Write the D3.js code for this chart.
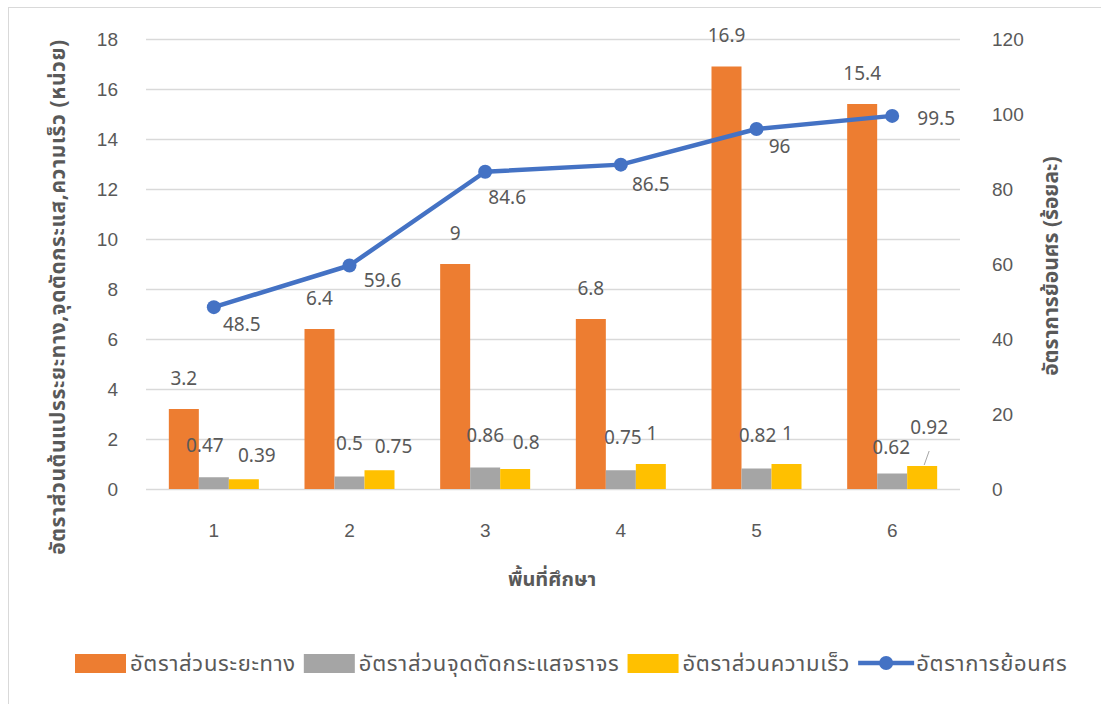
<!DOCTYPE html>
<html>
<head>
<meta charset="utf-8">
<script src="https://cdn.jsdelivr.net/npm/d3@7"></script>
<style>
  body { margin: 0; background: #fff; }
  svg { font-family: "Noto Sans Thai", "Leelawadee UI", "Noto Sans", "DejaVu Sans", sans-serif; }
</style>
</head>
<body>
<svg width="1101" height="704"></svg>
<script>
// data
const categories = ['1', '2', '3', '4', '5', '6'];
const distanceRatio = [3.2, 6.4, 9, 6.8, 16.9, 15.4];
const junctionRatio = [0.47, 0.5, 0.86, 0.75, 0.82, 0.62];
const speedRatio = [0.39, 0.75, 0.8, 1, 1, 0.92];
const wrongWayRate = [48.5, 59.6, 84.6, 86.5, 96, 99.5];
const leftTicks = [0, 2, 4, 6, 8, 10, 12, 14, 16, 18];
const rightTicks = [0, 20, 40, 60, 80, 100, 120];
const seriesNames = ['อัตราส่วนระยะทาง', 'อัตราส่วนจุดตัดกระแสจราจร', 'อัตราส่วนความเร็ว', 'อัตราการย้อนศร'];
const leftTitle = 'อัตราส่วนต้นแปรระยะทาง,จุดตัดกระแส,ความเร็ว (หน่วย)';
const rightTitle = 'อัตราการย้อนศร (ร้อยละ)';
const xTitle = 'พื้นที่ศึกษา';

const colors = ['#ED7D31', '#A5A5A5', '#FFC000', '#4472C4'];
const textColor = '#595959';

const svg = d3.select('svg');
const margin = { left: 146, right: 141, top: 39, bottom: 215 };
const W = 1101, H = 704;
const x0 = margin.left, x1 = W - margin.right;
const y0 = margin.top, y1 = H - margin.bottom;

// chart border
svg.append('rect')
  .attr('x', 8.5).attr('y', 7.5)
  .attr('width', 1100).attr('height', 700)
  .attr('fill', 'none').attr('stroke', '#D9D9D9');

const xScale = d3.scaleBand().domain(categories).range([x0, x1]);
const barSeries = [distanceRatio, junctionRatio, speedRatio];
const inner = d3.scaleBand().domain([0, 1, 2]).range([-45, 45]);
const yLeft = d3.scaleLinear().domain([0, 18]).range([y1, y0]);
const yRight = d3.scaleLinear().domain([0, 120]).range([y1, y0]);
const cx = i => xScale(categories[i]) + xScale.bandwidth() / 2;

// gridlines
svg.append('g')
  .attr('transform', `translate(${x0},0)`)
  .call(d3.axisLeft(yLeft).tickValues(leftTicks).tickSize(-(x1 - x0)).tickFormat(''))
  .call(g => g.select('.domain').remove())
  .call(g => g.selectAll('line').attr('stroke', '#D9D9D9').attr('stroke-width', 1.3));

// left axis labels
svg.append('g')
  .attr('transform', `translate(${x0 - 28},0)`)
  .call(d3.axisLeft(yLeft).tickValues(leftTicks).tickSize(0))
  .call(g => g.select('.domain').remove())
  .call(g => g.selectAll('text').attr('fill', textColor).attr('font-size', 19).attr('x', 0).attr('dy', '0.35em'));

// right axis labels
svg.append('g')
  .attr('transform', `translate(${x1 + 32},0)`)
  .call(d3.axisRight(yRight).tickValues(rightTicks).tickSize(0))
  .call(g => g.select('.domain').remove())
  .call(g => g.selectAll('text').attr('fill', textColor).attr('font-size', 19).attr('x', 0).attr('dy', '0.35em'));

// x axis labels
svg.append('g')
  .attr('transform', `translate(0,${y1 + 41})`)
  .call(d3.axisBottom(xScale).tickSize(0))
  .call(g => g.select('.domain').remove())
  .call(g => g.selectAll('text').attr('fill', textColor).attr('font-size', 19).attr('y', 0).attr('dy', '0.35em'));

// bars
barSeries.forEach((vals, si) => {
  svg.append('g').selectAll('rect')
    .data(vals)
    .join('rect')
    .attr('x', (d, i) => cx(i) + inner(si))
    .attr('y', d => yLeft(d))
    .attr('width', inner.bandwidth())
    .attr('height', d => y1 - yLeft(d))
    .attr('fill', colors[si]);
});

// line
const line = d3.line()
  .x((d, i) => cx(i))
  .y(d => yRight(d));
svg.append('path')
  .datum(wrongWayRate)
  .attr('d', line)
  .attr('fill', 'none')
  .attr('stroke', colors[3])
  .attr('stroke-width', 4.5)
  .attr('stroke-linejoin', 'round');
svg.append('g').selectAll('circle')
  .data(wrongWayRate)
  .join('circle')
  .attr('cx', (d, i) => cx(i))
  .attr('cy', d => yRight(d))
  .attr('r', 7)
  .attr('fill', colors[3]);

// data labels (nudges mimic excel's label placement)
const labelG = svg.append('g').attr('fill', textColor).attr('font-size', 19).attr('text-anchor', 'middle');
const addLabel = (x, y, v) => labelG.append('text').attr('x', x).attr('y', y).attr('dy', '0.35em').text(v);

distanceRatio.forEach((v, i) => addLabel(cx(i) + inner(0) + 15, yLeft(v) - 31, v));

const grayDx = [-9, 0, 0, 2, 1, -1];
const grayDy = [-32, -33, -32, -33, -33, -26];
junctionRatio.forEach((v, i) => addLabel(cx(i) + inner(1) + 15 + grayDx[i], yLeft(v) + grayDy[i], v));

const yellowDx = [13, 14, 11, 1, 1, 7];
const yellowDy = [-24, -24, -27, -31, -31, -39];
speedRatio.forEach((v, i) => addLabel(cx(i) + inner(2) + 15 + yellowDx[i], yLeft(v) + yellowDy[i], v));

// leader line for the last yellow label
svg.append('line')
  .attr('x1', cx(5) + inner(2) + 17).attr('y1', yLeft(speedRatio[5]) - 1)
  .attr('x2', cx(5) + inner(2) + 22).attr('y2', yLeft(speedRatio[5]) - 15)
  .attr('stroke', '#A6A6A6').attr('stroke-width', 1);

const lineDx = [28, 33, 22, 30, 23, 44];
const lineDy = [17, 15, 26, 20, 17, 2];
wrongWayRate.forEach((v, i) => addLabel(cx(i) + lineDx[i], yRight(v) + lineDy[i], v));

// axis titles
svg.append('text')
  .attr('transform', `translate(58,297) rotate(-90)`)
  .attr('text-anchor', 'middle').attr('dy', '0.35em')
  .attr('fill', textColor).attr('font-size', 21).attr('font-weight', 'bold')
  .attr('letter-spacing', 0.6)
  .text(leftTitle);
svg.append('text')
  .attr('transform', `translate(1051,266) rotate(-90)`)
  .attr('text-anchor', 'middle').attr('dy', '0.35em')
  .attr('fill', textColor).attr('font-size', 21).attr('font-weight', 'bold')
  .text(rightTitle);
svg.append('text')
  .attr('x', 552).attr('y', 579)
  .attr('text-anchor', 'middle').attr('dy', '0.35em')
  .attr('fill', textColor).attr('font-size', 20).attr('font-weight', 'bold')
  .text(xTitle);

// legend
const legend = svg.append('g');
let lx = 75;
const ly = 663;
seriesNames.forEach((name, i) => {
  const item = legend.append('g');
  let tx;
  if (i < 3) {
    item.append('rect').attr('x', lx).attr('y', ly - 9).attr('width', 51).attr('height', 19).attr('fill', colors[i]);
    tx = lx + 55;
  } else {
    item.append('line').attr('x1', lx).attr('x2', lx + 56).attr('y1', ly).attr('y2', ly)
      .attr('stroke', colors[3]).attr('stroke-width', 4.5);
    item.append('circle').attr('cx', lx + 28).attr('cy', ly).attr('r', 7).attr('fill', colors[3]);
    tx = lx + 58;
  }
  const t = item.append('text')
    .attr('x', tx).attr('y', ly).attr('dy', '0.35em')
    .attr('fill', textColor).attr('font-size', 22).attr('letter-spacing', 0.7)
    .text(name);
  lx = tx + t.node().getComputedTextLength() + 8;
});
</script>
</body>
</html>
